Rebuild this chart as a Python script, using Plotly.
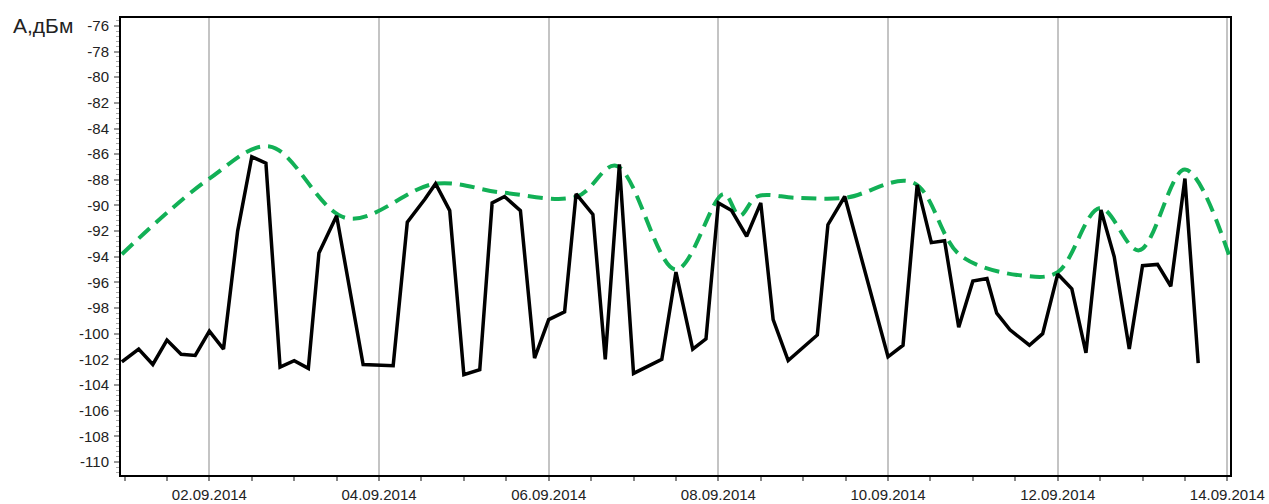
import plotly.graph_objects as go

# Measured signal level, dBm
level_times = [
    "2014-08-31 23:15", "2014-09-01 04:00", "2014-09-01 08:00", "2014-09-01 12:00",
    "2014-09-01 16:00", "2014-09-01 20:00", "2014-09-02 00:00", "2014-09-02 04:00",
    "2014-09-02 08:00", "2014-09-02 12:00", "2014-09-02 16:00", "2014-09-02 20:00",
    "2014-09-03 00:00", "2014-09-03 04:00", "2014-09-03 07:00", "2014-09-03 12:00",
    "2014-09-03 19:30", "2014-09-04 04:00", "2014-09-04 08:00", "2014-09-04 13:00",
    "2014-09-04 16:00", "2014-09-04 20:00", "2014-09-05 00:00", "2014-09-05 04:30",
    "2014-09-05 08:00", "2014-09-05 11:30", "2014-09-05 16:00", "2014-09-05 20:00",
    "2014-09-06 00:00", "2014-09-06 04:30", "2014-09-06 07:45", "2014-09-06 12:30",
    "2014-09-06 16:00", "2014-09-06 20:00", "2014-09-07 00:00", "2014-09-07 08:00",
    "2014-09-07 12:00", "2014-09-07 16:45", "2014-09-07 20:30", "2014-09-08 00:00",
    "2014-09-08 03:45", "2014-09-08 08:00", "2014-09-08 12:00", "2014-09-08 15:30",
    "2014-09-08 19:45", "2014-09-09 04:00", "2014-09-09 07:00", "2014-09-09 11:45",
    "2014-09-10 00:00", "2014-09-10 04:15", "2014-09-10 08:15", "2014-09-10 12:15",
    "2014-09-10 16:00", "2014-09-10 20:00", "2014-09-11 00:00", "2014-09-11 04:00",
    "2014-09-11 06:45", "2014-09-11 10:30", "2014-09-11 16:00", "2014-09-11 19:45",
    "2014-09-12 00:00", "2014-09-12 04:00", "2014-09-12 08:00", "2014-09-12 12:15",
    "2014-09-12 16:00", "2014-09-12 20:15", "2014-09-13 00:00", "2014-09-13 04:15",
    "2014-09-13 08:00", "2014-09-13 12:00", "2014-09-13 15:45",
]
level_values = [
    -102.2, -101.2, -102.4, -100.5,
    -101.6, -101.7, -99.8, -101.2,
    -92.0, -86.2, -86.7, -102.6,
    -102.1, -102.7, -93.7, -90.8,
    -102.4, -102.5, -91.3, -89.5,
    -88.3, -90.4, -103.2, -102.8,
    -89.8, -89.3, -90.4, -101.9,
    -98.9, -98.3, -89.1, -90.7,
    -102.0, -86.8, -103.1, -102.0,
    -95.2, -101.2, -100.4, -89.8,
    -90.4, -92.4, -89.8, -98.9,
    -102.1, -100.1, -91.5, -89.3,
    -101.8, -100.9, -88.4, -92.9,
    -92.75, -99.5, -95.9, -95.7,
    -98.4, -99.7, -100.9, -100.0,
    -95.35, -96.5, -101.5, -90.35,
    -94.0, -101.2, -94.7, -94.6,
    -96.3, -87.9, -102.3,
]

# Upper envelope, dBm
envelope_times = [
    "2014-08-31 23:15", "2014-09-02 00:00", "2014-09-02 17:00", "2014-09-03 15:00",
    "2014-09-04 16:00", "2014-09-05 11:00", "2014-09-06 08:00", "2014-09-06 19:00",
    "2014-09-07 12:00", "2014-09-08 01:30", "2014-09-08 06:00", "2014-09-08 11:00",
    "2014-09-08 22:00", "2014-09-09 12:00", "2014-09-10 07:00", "2014-09-10 20:30",
    "2014-09-11 15:00", "2014-09-12 00:00", "2014-09-12 12:00", "2014-09-12 23:00",
    "2014-09-13 12:00", "2014-09-14 00:45",
]
envelope_values = [
    -93.8, -87.9, -85.4, -91.0,
    -88.3, -89.0, -89.3, -86.9,
    -95.0, -89.1, -90.8, -89.3,
    -89.4, -89.4, -88.2, -93.9,
    -95.5, -95.2, -90.2, -93.5,
    -87.2, -94.1,
]

y_ticks = list(range(-110, -75, 2))

FONT = "Liberation Sans, Arial, sans-serif"

fig = go.Figure()

fig.add_trace(go.Scatter(
    x=envelope_times, y=envelope_values, mode="lines",
    line=dict(color="#12b056", width=4, dash="15px,8px", shape="spline", smoothing=1.0),
    hoverinfo="skip", showlegend=False,
))

fig.add_trace(go.Scatter(
    x=level_times, y=level_values, mode="lines",
    line=dict(color="#000000", width=3.5),
    showlegend=False,
))

fig.update_layout(
    width=1269, height=504,
    margin=dict(l=121, r=39, t=18, b=29),
    paper_bgcolor="white", plot_bgcolor="white",
    font=dict(family=FONT, size=15, color="#222222"),
    xaxis=dict(
        type="date",
        automargin=False,
        range=["2014-08-31 23:00", "2014-09-14 00:45"],
        tick0="2014-09-02", dtick=2 * 86400000,
        tickformat="%d.%m.%Y",
        ticks="outside", ticklen=4, tickwidth=2, tickcolor="#888888",
        ticklabelstandoff=1,
        minor=dict(dtick=43200000, tick0="2014-09-01", ticks="outside",
                   ticklen=4, tickwidth=2, tickcolor="#888888", showgrid=False),
        showgrid=True, gridcolor="#c4c4c4", gridwidth=2,
        showline=True, linecolor="#000000", linewidth=2, mirror=True,
        zeroline=False,
        tickfont=dict(family=FONT, size=15, color="#222222"),
    ),
    yaxis=dict(
        automargin=False,
        range=[-111.02, -75.38],
        tickvals=y_ticks,
        ticktext=[str(v) for v in y_ticks],
        ticks="outside", ticklen=5, tickwidth=2, tickcolor="#999999",
        ticklabelstandoff=2,
        minor=dict(dtick=0.4, tick0=-110, ticks="outside", ticklen=3,
                   tickwidth=1, tickcolor="#aaaaaa", showgrid=False),
        showgrid=False,
        showline=True, linecolor="#000000", linewidth=2, mirror=True,
        zeroline=False,
        tickfont=dict(family=FONT, size=15, color="#222222"),
    ),
    annotations=[dict(
        text="А,дБм", xref="paper", yref="y", x=0, y=-76,
        xanchor="right", yanchor="middle", xshift=-46, showarrow=False,
        font=dict(family=FONT, size=21, color="#222222"),
    )],
)

fig.write_html("out.html")
